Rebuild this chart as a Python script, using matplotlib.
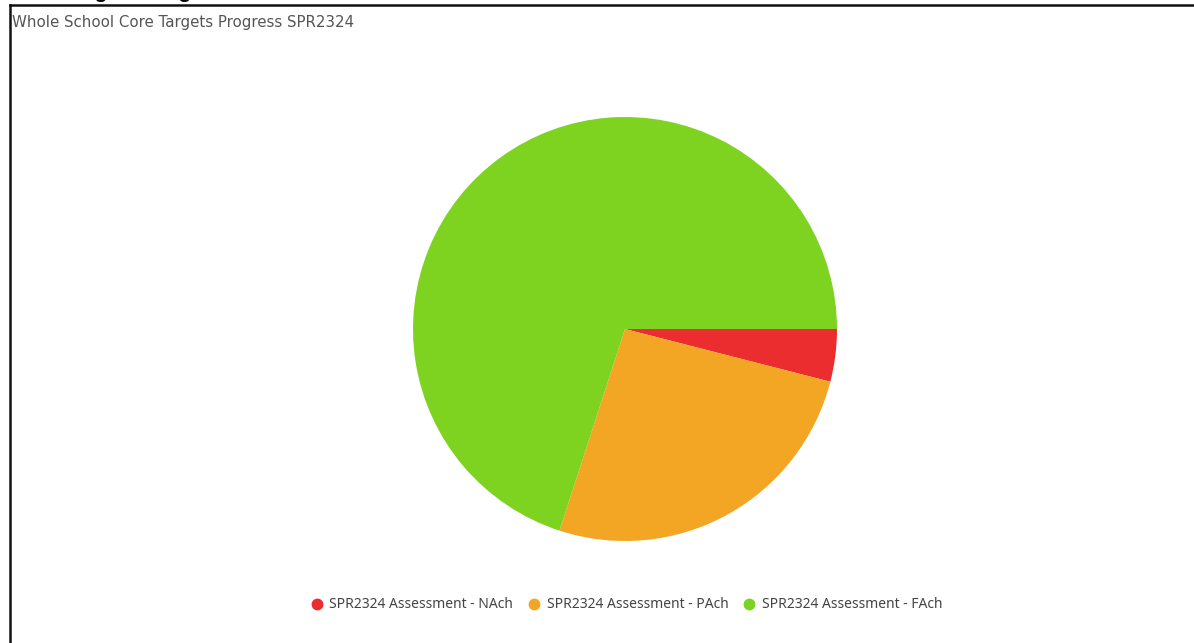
import matplotlib
matplotlib.use("Agg")
import matplotlib.pyplot as plt
from matplotlib.lines import Line2D

W, H = 1194, 643
categories = ["SPR2324 Assessment - NAch", "SPR2324 Assessment - PAch", "SPR2324 Assessment - FAch"]
values = [2, 13, 35]
colors = ["#EC2D2F", "#F3A623", "#7ED320"]
page_title = "Core Targets Progress - Whole School"
chart_title = "Whole School Core Targets Progress SPR2324"

fig = plt.figure(figsize=(W / 100, H / 100), dpi=100)

def fx(px):
    return px / W

def fy(py):
    return 1 - py / H

# clipped page heading (only its descenders show) and frame lines
fig.text(fx(10), fy(-2), page_title, fontsize=15, fontweight="bold", family="Liberation Sans",
         va="baseline", ha="left", color="black")
fig.add_artist(Line2D([fx(10), fx(1194)], [fy(5), fy(5)], color="#111111", lw=1.8))
fig.add_artist(Line2D([fx(10), fx(10)], [fy(5), fy(643)], color="#111111", lw=1.8))

fig.text(fx(12), fy(23), chart_title, fontsize=10.8, family="DejaVu Sans", color="#555555",
         va="center", ha="left")

cx, cy, r = 625, 329, 212
ax = fig.add_axes([fx(cx - r), fy(cy + r), (2 * r) / W, (2 * r) / H])
ax.pie(values, colors=colors, startangle=0, counterclock=False,
       wedgeprops=dict(linewidth=0))
ax.set_xlim(-1, 1)
ax.set_ylim(-1, 1)
ax.set_aspect("equal")
ax.axis("off")

handles = [Line2D([], [], marker="o", linestyle="none", markersize=7.5,
                  markerfacecolor=c, markeredgecolor=c) for c in colors]
fig.legend(handles, categories, loc="center", bbox_to_anchor=(fx(626), fy(605)),
           ncol=3, frameon=False, handlelength=1.0, handletextpad=0.4, columnspacing=1.0,
           labelcolor="#444444", prop=dict(family="Noto Sans", size=10))

fig.savefig("out.png", dpi=100)
